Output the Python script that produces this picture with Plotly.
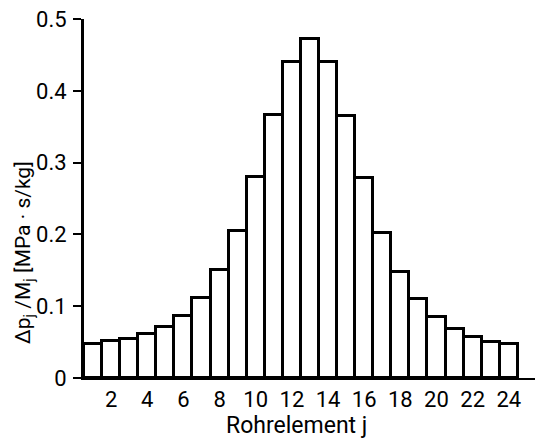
import plotly.graph_objects as go

elements = list(range(1, 25))
values = [0.048, 0.0515, 0.055, 0.061, 0.0715, 0.087, 0.112, 0.150, 0.205, 0.280,
          0.366, 0.4405, 0.472, 0.4405, 0.365, 0.278, 0.2025, 0.148, 0.110, 0.0845,
          0.068, 0.0575, 0.0506, 0.047]
x_ticks = list(range(2, 25, 2))
y_ticks = [0, 0.1, 0.2, 0.3, 0.4, 0.5]
y_tick_labels = ["0", "0.1", "0.2", "0.3", "0.4", "0.5"]

FONT = "Roboto"

fig = go.Figure()
fig.add_trace(go.Bar(
    x=elements, y=values,
    marker=dict(color="white", line=dict(color="black", width=3)),
    width=1.0,
))

fig.update_layout(
    width=535, height=444,
    margin=dict(l=84, r=0, t=19, b=66),
    plot_bgcolor="white", paper_bgcolor="white",
    showlegend=False,
    bargap=0,
    font=dict(family=FONT, color="black", size=22),
    xaxis=dict(
        range=[0.5, 25.45],
        tickmode="array", tickvals=x_ticks, ticktext=[str(v) for v in x_ticks],
        ticks="", showgrid=False, zeroline=False,
        showline=True, linecolor="black", linewidth=2,
        tickfont=dict(size=22, family=FONT),
        ticklabelstandoff=1,
    ),
    yaxis=dict(
        range=[0, 0.5],
        tickmode="array", tickvals=y_ticks, ticktext=y_tick_labels,
        ticks="outside", ticklen=8, tickwidth=2, tickcolor="black",
        showgrid=False, zeroline=False,
        showline=True, linecolor="black", linewidth=3,
        tickfont=dict(size=22, family=FONT),
        ticklabelstandoff=2,
    ),
    annotations=[
        dict(text="Rohrelement j", xref="paper", yref="paper",
             x=(296 - 84) / 451, y=-(425 - 378) / 359, xanchor="center", yanchor="middle",
             showarrow=False, font=dict(size=23, family=FONT)),
        dict(text="Δp<sub>j</sub> /M<sub>j</sub> [MPa · s/kg]", xref="paper", yref="paper",
             x=(25 - 84) / 451, y=(378 - 253) / 359, xanchor="center", yanchor="middle",
             textangle=-90, showarrow=False, font=dict(size=21, family=FONT)),
    ],
)

fig.write_html("out.html")
